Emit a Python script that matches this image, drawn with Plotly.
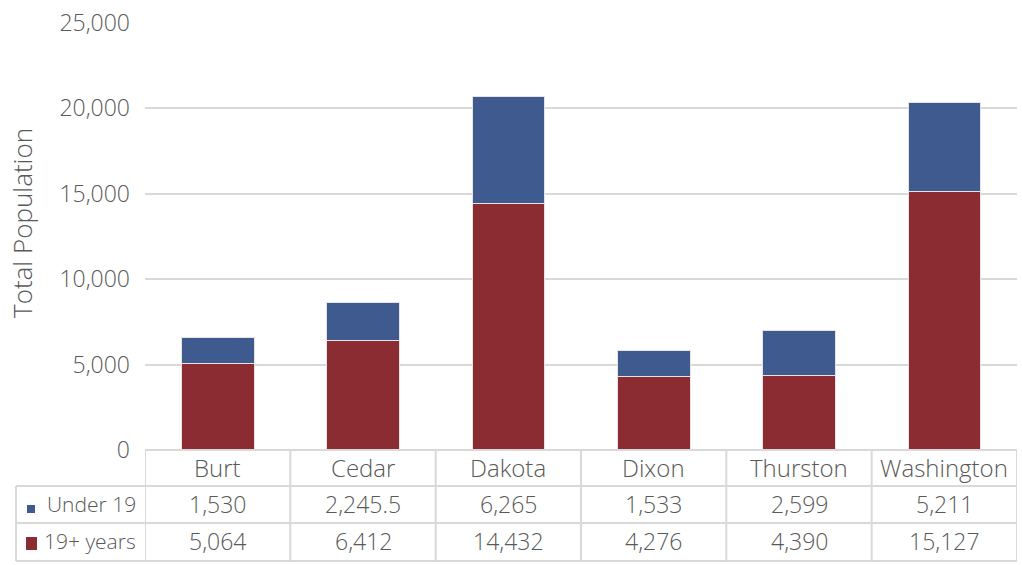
import plotly.graph_objects as go

counties = ["Burt", "Cedar", "Dakota", "Dixon", "Thurston", "Washington"]
under19 = [1530, 2245.5, 6265, 1533, 2599, 5211]
adults = [5064, 6412, 14432, 4276, 4390, 15127]
series_names = ["Under 19", "19+ years"]
y_ticks = [0, 5000, 10000, 15000, 20000, 25000]

BLUE = "#3F5A8E"
RED = "#8B2C33"
GRID = "#D9D9D9"
TEXT = "#595959"
FONT = "Open Sans"
FS = 23

W, H = 1022, 565
X0, X1, Y0, Y1 = 145, 1017, 23, 450  # plot area in pixels


def px(x):
    return (x - X0) / (X1 - X0)


def py(y):
    return (Y1 - y) / (Y1 - Y0)


def f(size=FS):
    return dict(size=size, color=TEXT, family=FONT, weight=300)


fig = go.Figure()
fig.add_trace(go.Bar(x=counties, y=adults, name=series_names[1], marker=dict(color=RED, line=dict(color="#E4E4E4", width=1))))
fig.add_trace(go.Bar(x=counties, y=under19, name=series_names[0], marker=dict(color=BLUE, line=dict(color="#E4E4E4", width=1))))

shapes = []
line = dict(color=GRID, width=2)
shapes.append(dict(type="line", xref="paper", yref="paper", x0=0, x1=1, y0=py(450), y1=py(450), line=line))
for yy in [486, 523, 561]:
    shapes.append(dict(type="line", xref="paper", yref="paper", x0=px(16), x1=1, y0=py(yy), y1=py(yy), line=line))
for i in range(len(counties) + 1):
    shapes.append(dict(type="line", xref="x", yref="paper", x0=i - 0.5, x1=i - 0.5, y0=py(450), y1=py(561), line=line))
shapes.append(dict(type="line", xref="paper", yref="paper", x0=px(16), x1=px(16), y0=py(486), y1=py(561), line=line))
shapes.append(dict(type="rect", xref="paper", yref="paper", x0=px(27), x1=px(35), y0=py(513), y1=py(505), fillcolor=BLUE, line=dict(width=0)))
shapes.append(dict(type="rect", xref="paper", yref="paper", x0=px(26), x1=px(37), y0=py(550), y1=py(537), fillcolor=RED, line=dict(width=0)))

ann = []
row_y = [467, 504, 541]
common = dict(showarrow=False, yanchor="middle", yref="paper")
for i, c in enumerate(counties):
    ann.append(dict(x=c, xref="x", xanchor="center", y=py(row_y[0]), text=c, font=f(24), **common))
    ann.append(dict(x=c, xref="x", xanchor="center", y=py(row_y[1]), text=f"{under19[i]:,}", font=f(), **common))
    ann.append(dict(x=c, xref="x", xanchor="center", y=py(row_y[2]), text=f"{adults[i]:,}", font=f(), **common))
ann.append(dict(x=px(138), xref="paper", xanchor="right", y=py(row_y[1]), text=series_names[0], font=f(21), **common))
ann.append(dict(x=px(138), xref="paper", xanchor="right", y=py(row_y[2]), text=series_names[1], font=f(21), **common))
ann.append(dict(x=px(22), xref="paper", xanchor="center", y=py(223), text="Total Population", textangle=-90, font=f(26), **common))

fig.update_layout(
    width=W, height=H,
    margin=dict(l=X0, r=W - X1, t=Y0, b=H - Y1),
    barmode="stack", bargap=0.5,
    plot_bgcolor="white", paper_bgcolor="white",
    showlegend=False,
    shapes=shapes, annotations=ann,
    font=f(),
    xaxis=dict(showticklabels=False, showgrid=False, showline=False, zeroline=False, range=[-0.5, len(counties) - 0.5]),
    yaxis=dict(range=[0, 25000], tickvals=y_ticks, tickformat=",d", showgrid=True, gridcolor=GRID, gridwidth=2,
               zeroline=False, showline=False, ticklabelstandoff=14, tickfont=f()),
)

fig.write_html("out.html", config={"displayModeBar": False}, post_script="document.body.style.margin='0';")
